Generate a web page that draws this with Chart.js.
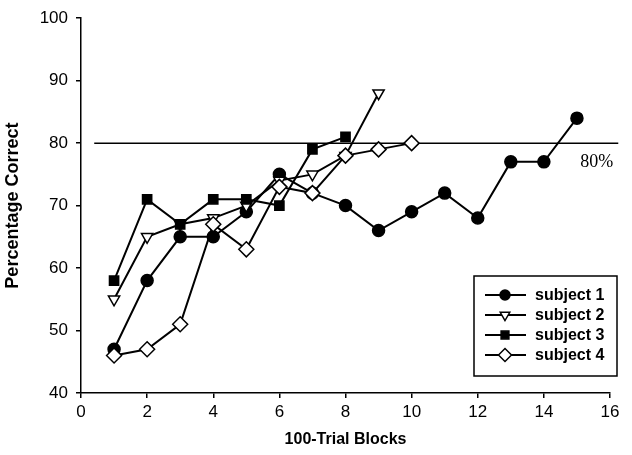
<!DOCTYPE html>
<html>
<head>
<meta charset="utf-8">
<script src="https://cdn.jsdelivr.net/npm/chart.js@4.4.1/dist/chart.umd.min.js"></script>
<style>
  html, body { margin: 0; padding: 0; background: #fff; }
  #wrap { width: 632px; height: 455px; }
</style>
</head>
<body>
<div id="wrap"><canvas id="chart" width="632" height="455"></canvas></div>
<script>
const subject1 = [47, 58, 65, 65, 69, 75, 72, 70, 66, 69, 72, 68, 77, 77, 84];
const subject2 = [55, 65, 67, 68, 70, 74, 75, 78, 88];
const subject3 = [58, 71, 67, 71, 71, 70, 79, 81];
const subject4 = [46, 47, 51, 67, 63, 73, 72, 78, 79, 80];
const seriesNames = ['subject 1', 'subject 2', 'subject 3', 'subject 4'];
const criterion = 80;
const xTicks = [0, 2, 4, 6, 8, 10, 12, 14, 16];
const yTicks = [40, 50, 60, 70, 80, 90, 100];

const toPoints = (arr) => arr.map((v, i) => ({ x: i + 1, y: v }));

const markers = [
  { pointStyle: 'circle', radius: 6, fill: '#000', rotation: 0 },
  { pointStyle: 'triangle', radius: 6.5, fill: '#fff', rotation: 180 },
  { pointStyle: 'rect', radius: 6.5, fill: '#000', rotation: 0 },
  { pointStyle: 'rectRot', radius: 7.5, fill: '#fff', rotation: 0 },
];

const allSeries = [subject1, subject2, subject3, subject4];
const datasets = allSeries.map((arr, i) => ({
  label: seriesNames[i],
  data: toPoints(arr),
  borderColor: '#000',
  borderWidth: 2,
  backgroundColor: markers[i].fill,
  pointBackgroundColor: markers[i].fill,
  pointBorderColor: '#000',
  pointBorderWidth: 1.5,
  pointStyle: markers[i].pointStyle,
  pointRadius: markers[i].radius,
  pointRotation: markers[i].rotation,
  tension: 0,
  clip: false,
}));
// draw series 1 on top like the original
datasets.reverse();

const criterionLine = {
  id: 'criterionLine',
  beforeDatasetsDraw(chart) {
    const { ctx, scales: { x, y } } = chart;
    const py = y.getPixelForValue(criterion);
    ctx.save();
    ctx.strokeStyle = '#000';
    ctx.lineWidth = 1.5;
    ctx.beginPath();
    ctx.moveTo(x.getPixelForValue(0.4), py);
    ctx.lineTo(x.getPixelForValue(16.25), py);
    ctx.stroke();
    ctx.fillStyle = '#000';
    ctx.font = '18px "Liberation Serif", "Times New Roman", serif';
    ctx.textAlign = 'left';
    ctx.textBaseline = 'alphabetic';
    ctx.fillText(criterion + '%', x.getPixelForValue(15.1), py + 24);
    ctx.restore();
  }
};

const boxLegend = {
  id: 'boxLegend',
  afterDraw(chart) {
    const { ctx } = chart;
    const left = 474, top = 276, w = 143, h = 100;
    ctx.save();
    ctx.fillStyle = '#fff';
    ctx.fillRect(left, top, w, h);
    ctx.strokeStyle = '#000';
    ctx.lineWidth = 1.5;
    ctx.strokeRect(left, top, w, h);
    seriesNames.forEach((name, i) => {
      const cy = top + 19 + i * 20;
      ctx.strokeStyle = '#000';
      ctx.lineWidth = 2;
      ctx.beginPath();
      ctx.moveTo(left + 11, cy);
      ctx.lineTo(left + 52, cy);
      ctx.stroke();
      ctx.fillStyle = markers[i].fill;
      ctx.lineWidth = 1.5;
      Chart.helpers.drawPoint(ctx, {
        pointStyle: markers[i].pointStyle,
        radius: markers[i].radius - 1,
        rotation: markers[i].rotation,
        borderWidth: 1.5,
      }, left + 31, cy);
      ctx.fillStyle = '#000';
      ctx.font = 'bold 16px "Liberation Sans", Arial, sans-serif';
      ctx.textAlign = 'left';
      ctx.textBaseline = 'middle';
      ctx.fillText(name, left + 61, cy + 1);
    });
    ctx.restore();
  }
};

new Chart(document.getElementById('chart'), {
  type: 'line',
  data: { datasets },
  plugins: [criterionLine, boxLegend],
  options: {
    responsive: false,
    animation: false,
    layout: { padding: { top: 14, right: 22, left: 0, bottom: 0 } },
    plugins: { legend: { display: false }, tooltip: { enabled: false } },
    scales: {
      x: {
        type: 'linear',
        min: 0,
        max: 16,
        afterFit(scale) { scale.height = 62; },
        afterBuildTicks(scale) { scale.ticks = xTicks.map((v) => ({ value: v })); },
        border: { color: '#000', width: 1.5 },
        grid: { drawOnChartArea: false, drawTicks: true, tickLength: 5, color: '#000', lineWidth: 1.5 },
        ticks: { color: '#000', padding: 4, maxRotation: 0, font: { family: '"Liberation Sans", Arial, sans-serif', size: 17 } },
        title: {
          display: true,
          text: '100-Trial Blocks',
          color: '#000',
          font: { family: '"Liberation Sans", Arial, sans-serif', size: 16, weight: 'bold' },
          padding: { top: 0, bottom: 6 },
        },
      },
      y: {
        min: 40,
        max: 100,
        afterFit(scale) { scale.width = 81; },
        afterBuildTicks(scale) { scale.ticks = yTicks.map((v) => ({ value: v })); },
        border: { color: '#000', width: 1.5 },
        grid: { drawOnChartArea: false, drawTicks: true, tickLength: 5, color: '#000', lineWidth: 1.5 },
        ticks: { color: '#000', padding: 8, font: { family: '"Liberation Sans", Arial, sans-serif', size: 17 } },
        title: {
          display: true,
          text: 'Percentage Correct',
          color: '#000',
          font: { family: '"Liberation Sans", Arial, sans-serif', size: 18, weight: 'bold' },
          padding: { top: 2, bottom: 0 },
        },
      },
    },
  },
});
</script>
</body>
</html>
